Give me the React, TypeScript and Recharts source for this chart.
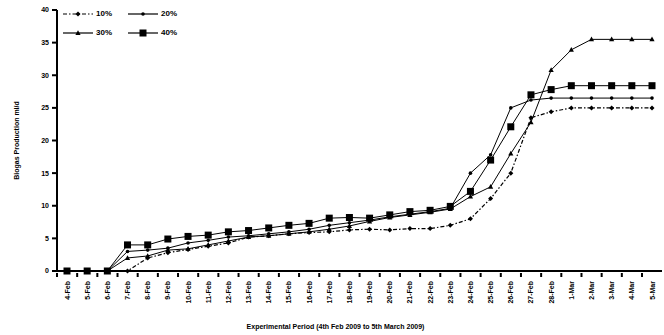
import React from 'react';
import { LineChart, Line, XAxis, YAxis } from 'recharts';

const categories = [
  '4-Feb','5-Feb','6-Feb','7-Feb','8-Feb','9-Feb','10-Feb','11-Feb','12-Feb','13-Feb',
  '14-Feb','15-Feb','16-Feb','17-Feb','18-Feb','19-Feb','20-Feb','21-Feb','22-Feb','23-Feb',
  '24-Feb','25-Feb','26-Feb','27-Feb','28-Feb','1-Mar','2-Mar','3-Mar','4-Mar','5-Mar',
];
const s10 = [0,0,0,0,2,2.8,3.3,3.8,4.3,5.2,5.4,5.7,5.9,6.0,6.3,6.4,6.3,6.5,6.5,7.0,8.0,11.1,15.0,23.5,24.4,25,25,25,25,25];
const s20 = [0,0,0,3,3.2,3.5,4.3,4.7,5.2,5.4,5.7,6.0,6.4,7.0,7.4,7.8,8.3,8.7,9.1,9.6,15.0,17.8,25.0,26.2,26.5,26.5,26.5,26.5,26.5,26.5];
const s30 = [0,0,0,2,2.3,3.2,3.4,4.0,4.6,5.2,5.4,5.7,6.0,6.4,6.9,7.6,8.2,8.6,9.0,9.5,11.4,12.9,18.0,22.8,30.8,33.9,35.5,35.5,35.5,35.5];
const s40 = [0,0,0,4.0,4.0,4.9,5.3,5.5,6.0,6.2,6.6,7.0,7.3,8.1,8.2,8.1,8.6,9.1,9.3,9.9,12.2,17.0,22.1,27.0,27.8,28.4,28.4,28.4,28.4,28.4];
const yTicks = [0, 5, 10, 15, 20, 25, 30, 35, 40];
const seriesNames = ['10%', '20%', '30%', '40%'];

const data = categories.map((c, i) => ({ cat: c, a: s10[i], b: s20[i], c3: s30[i], d: s40[i] }));

const FONT = 'Arial, "Liberation Sans", sans-serif';

const Diamond = (p: any) => {
  const { cx, cy } = p;
  if (cx == null || cy == null) return null;
  return <path d={`M${cx},${cy - 2.5}L${cx + 2.5},${cy}L${cx},${cy + 2.5}L${cx - 2.5},${cy}Z`} fill="#000" />;
};
const Dot = (p: any) => {
  const { cx, cy } = p;
  if (cx == null || cy == null) return null;
  return <circle cx={cx} cy={cy} r={1.8} fill="#000" />;
};
const Tri = (p: any) => {
  const { cx, cy } = p;
  if (cx == null || cy == null) return null;
  return <path d={`M${cx},${cy - 2.8}L${cx + 2.6},${cy + 2}L${cx - 2.6},${cy + 2}Z`} fill="#000" />;
};
const Sq = (p: any) => {
  const { cx, cy } = p;
  if (cx == null || cy == null) return null;
  return <rect x={cx - 3.5} y={cy - 3.5} width={7} height={7} fill="#000" />;
};

const XTick = (p: any) => {
  const { x, y, payload } = p;
  return (
    <g>
      <line x1={x - 10} x2={x - 10} y1={y - 8} y2={y - 4} stroke="#000" strokeWidth={2} />
      <text
        x={x}
        y={y}
        transform={`rotate(-90, ${x}, ${y})`}
        textAnchor="end"
        dominantBaseline="central"
        fontFamily={FONT}
        fontSize={7}
        fontWeight="bold"
        fill="#000"
      >
        {payload.value}
      </text>
    </g>
  );
};

const legendItem = (name: string, dash: string | undefined, marker: React.ReactNode) => (
  <div style={{ display: 'flex', alignItems: 'center', width: 65, height: 19 }} key={name}>
    <svg width={30} height={8}>
      <line x1={0} x2={30} y1={4} y2={4} stroke="#000" strokeWidth={1.2} strokeDasharray={dash} />
      {marker}
    </svg>
    <span style={{ fontFamily: FONT, fontSize: 8, fontWeight: 'bold', marginLeft: 3 }}>{name}</span>
  </div>
);

const LegendBox = () => (
  <div style={{ position: 'absolute', left: 63, top: 4, display: 'flex', flexWrap: 'wrap', width: 130 }}>
    {legendItem(seriesNames[0], '4 2 1.5 2', <Diamond cx={15} cy={4} />)}
    {legendItem(seriesNames[1], undefined, <Dot cx={15} cy={4} />)}
    {legendItem(seriesNames[2], undefined, <Tri cx={15} cy={4} />)}
    {legendItem(seriesNames[3], undefined, <Sq cx={15} cy={4} />)}
  </div>
);

export default function App() {
  return (
    <div style={{ position: 'absolute', left: 0, top: 0, width: 664, height: 335, background: '#fff' }}>
      <LineChart width={664} height={335} data={data} margin={{ top: 10, right: 2, bottom: 0, left: 0 }}>
        <XAxis
          dataKey="cat"
          interval={0}
          padding={{ left: 10, right: 10 }}
          height={64}
          axisLine={{ stroke: '#000', strokeWidth: 2 }}
          tickLine={false}
          tick={<XTick />}
          tickMargin={4}
          label={{
            value: 'Experimental Period (4th Feb 2009 to 5th March 2009)',
            position: 'insideBottom',
            offset: 6,
            dx: -24,
            style: { fontFamily: FONT, fontSize: 7, fontWeight: 'bold', fill: '#000' },
          }}
        />
        <YAxis
          width={57}
          domain={[0, 40]}
          ticks={yTicks}
          interval={0}
          axisLine={{ stroke: '#000', strokeWidth: 2 }}
          tickLine={{ stroke: '#000', strokeWidth: 2 }}
          tickSize={5}
          tickMargin={3}
          tick={{ fontFamily: FONT, fontSize: 7, fontWeight: 'bold', fill: '#000' }}
          label={{
            value: 'Biogas Production ml/d',
            angle: -90,
            position: 'insideLeft',
            offset: 17,
            style: { fontFamily: FONT, fontSize: 7, fontWeight: 'bold', fill: '#000', textAnchor: 'middle' },
          }}
        />
        <Line dataKey="a" name={seriesNames[0]} stroke="#000" strokeWidth={1.2} strokeDasharray="4 2 1.5 2" dot={<Diamond />} isAnimationActive={false} />
        <Line dataKey="b" name={seriesNames[1]} stroke="#000" strokeWidth={1} dot={<Dot />} isAnimationActive={false} />
        <Line dataKey="c3" name={seriesNames[2]} stroke="#000" strokeWidth={1} dot={<Tri />} isAnimationActive={false} />
        <Line dataKey="d" name={seriesNames[3]} stroke="#000" strokeWidth={1} dot={<Sq />} isAnimationActive={false} />
      </LineChart>
      <LegendBox />
    </div>
  );
}
